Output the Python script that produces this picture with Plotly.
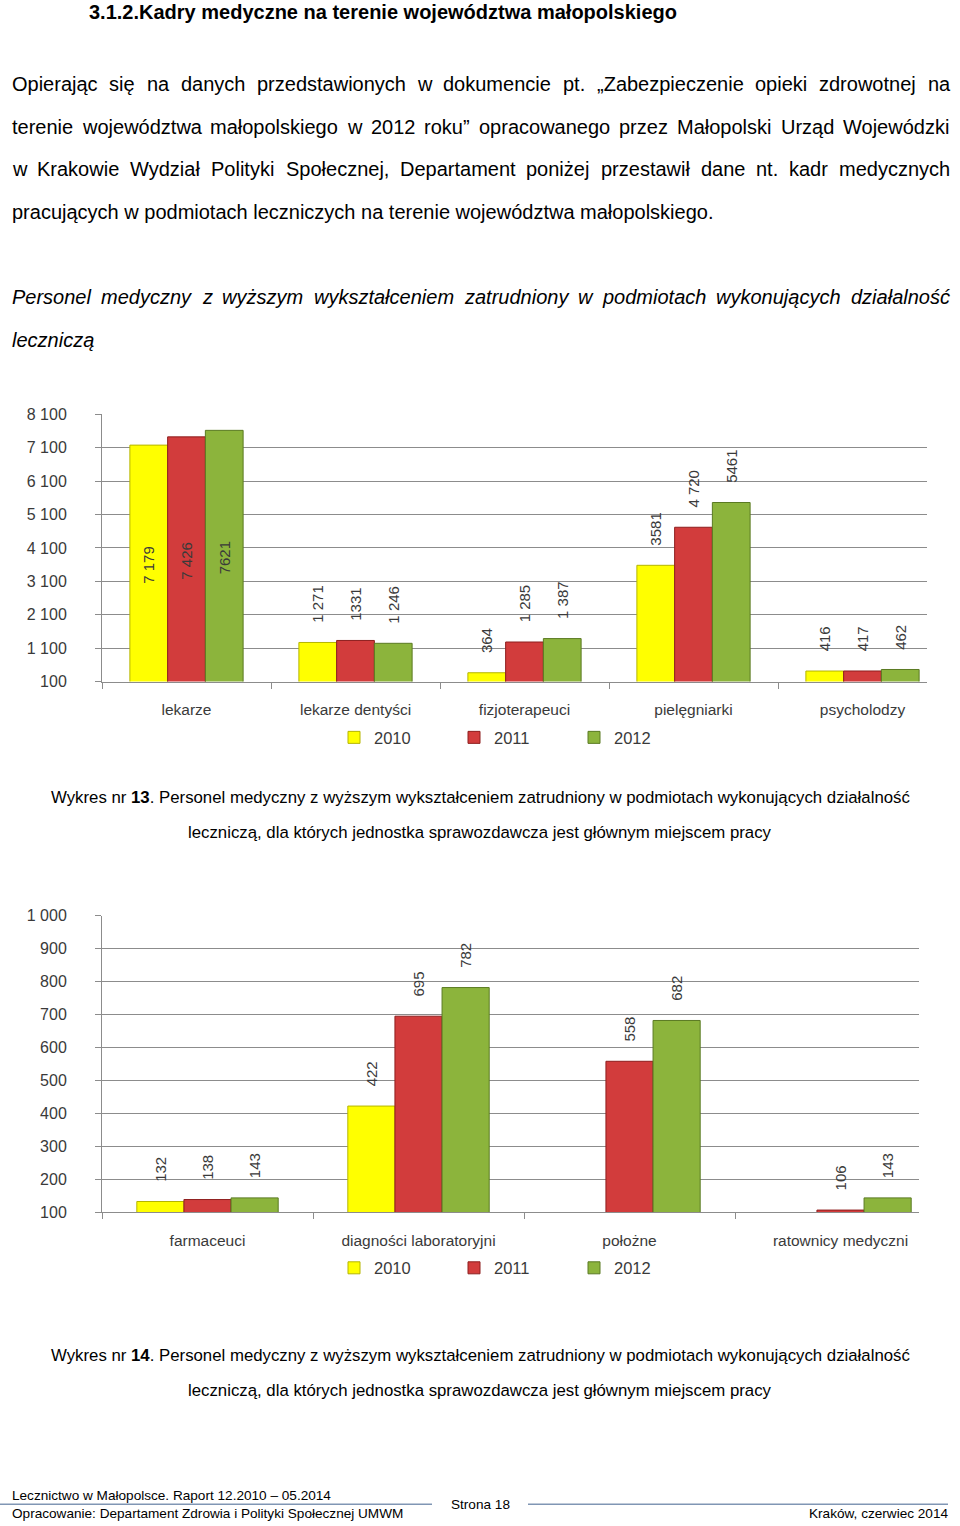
import plotly.graph_objects as go

W, H = 960, 1526

# ---------------- data ----------------
years = ["2010", "2011", "2012"]

cat1 = ["lekarze", "lekarze dentyści", "fizjoterapeuci", "pielęgniarki", "psycholodzy"]
v1_2010 = [7179, 1271, 364, 3581, 416]
v1_2011 = [7426, 1331, 1285, 4720, 417]
v1_2012 = [7621, 1246, 1387, 5461, 462]
t1_2010 = ["7 179", "1 271", "364", "3581", "416"]
t1_2011 = ["7 426", "1331", "1 285", "4 720", "417"]
t1_2012 = ["7621", "1 246", "1 387", "5461", "462"]

cat2 = ["farmaceuci", "diagności laboratoryjni", "położne", "ratownicy medyczni"]
v2_2010 = [132, 422, None, None]
v2_2011 = [138, 695, 558, 106]
v2_2012 = [143, 782, 682, 143]
t2_2010 = ["132", "422", None, None]
t2_2011 = ["138", "695", "558", "106"]
t2_2012 = ["143", "782", "682", "143"]

y1_ticks = [100, 1100, 2100, 3100, 4100, 5100, 6100, 7100, 8100]
y2_ticks = [100, 200, 300, 400, 500, 600, 700, 800, 900, 1000]

# ---------------- style ----------------
FONT = "Liberation Sans, Arial, sans-serif"
fills = ["#FFFF00", "#D23C3C", "#8CB43C"]
edges = ["#B5B500", "#8E1E1E", "#5A7A22"]
GRID = "#8C8C8C"
TXT = "#3A3A3A"

# observed capture: picture_y ~= 9 + 0.988 * page_y  -> invert for layout
Y_OFF, Y_SCALE = 9.0, 0.988


def px(x):
    return x / W


def py(y):
    yp = (y - Y_OFF) / Y_SCALE
    return 1 - yp / H


fig = go.Figure()

NB = "\u00a0"


def add_series(cats, vals, texts, i, xa, ya, leg, inside_thr):
    pos = []
    lab = []
    for v, t in zip(vals, texts):
        if v is None:
            pos.append("none")
            lab.append(None)
        elif inside_thr is not None and v > inside_thr:
            pos.append("inside")
            lab.append(t)
        else:
            pos.append("outside")
            lab.append(NB * 4 + t)
    fig.add_trace(go.Bar(
        x=cats, y=vals, name=years[i], text=lab, textposition=pos,
        textangle=-90, insidetextanchor="middle", constraintext="none",
        cliponaxis=False,
        textfont=dict(family=FONT, size=15, color=TXT),
        marker=dict(color=fills[i], line=dict(color=edges[i], width=1)),
        xaxis=xa, yaxis=ya, legend=leg, hoverinfo="x+y",
    ))


for i, (v, t) in enumerate(zip([v1_2010, v1_2011, v1_2012], [t1_2010, t1_2011, t1_2012])):
    add_series(cat1, v, t, i, "x", "y", "legend", 6000)
for i, (v, t) in enumerate(zip([v2_2010, v2_2011, v2_2012], [t2_2010, t2_2011, t2_2012])):
    add_series(cat2, v, t, i, "x2", "y2", "legend2", None)

axis_common = dict(
    showline=True, linecolor=GRID, linewidth=1, ticks="outside", ticklen=6,
    tickcolor=GRID,
)

xfont = dict(family=FONT, size=15.5, color=TXT)
yfont = dict(family=FONT, size=16, color=TXT)
lfont = dict(family=FONT, size=16.5, color=TXT)

fig.update_layout(
    width=W, height=H, margin=dict(l=0, r=0, t=0, b=0),
    paper_bgcolor="white", plot_bgcolor="white",
    separators=", ",
    barmode="group", bargap=0.33, bargroupgap=0,
    font=dict(family=FONT, color=TXT),
    xaxis=dict(domain=[px(102), px(927)], anchor="y", type="category",
               categoryorder="array", categoryarray=cat1,
               range=[-0.5, -0.5 + (927 - 102) / 169.0], tickson="boundaries",
               ticklabelstandoff=14, showgrid=False, tickfont=xfont, **axis_common),
    yaxis=dict(domain=[py(682), py(415)], anchor="x", range=[100, 8100],
               tickvals=y1_ticks, tickformat=",d", showgrid=True, gridcolor=GRID,
               gridwidth=1, zeroline=False, ticklabelstandoff=25, tickfont=yfont,
               **axis_common),
    xaxis2=dict(domain=[px(102), px(919)], anchor="y2", type="category",
                categoryorder="array", categoryarray=cat2,
                range=[-0.5, -0.5 + (919 - 102) / 211.0], tickson="boundaries",
                ticklabelstandoff=14, showgrid=False, tickfont=xfont, **axis_common),
    yaxis2=dict(domain=[py(1212), py(916)], anchor="x2", range=[100, 1000],
                tickvals=y2_ticks, tickformat=",d", showgrid=True, gridcolor=GRID,
                gridwidth=1, zeroline=False, ticklabelstandoff=25, tickfont=yfont,
                **axis_common),
    legend=dict(orientation="h", x=px(334), xanchor="left", y=py(738), yanchor="middle",
                font=lfont, entrywidth=75, itemwidth=30,
                bgcolor="rgba(0,0,0,0)", itemclick=False),
    legend2=dict(orientation="h", x=px(334), xanchor="left", y=py(1268), yanchor="middle",
                 font=lfont, entrywidth=75, itemwidth=30,
                 bgcolor="rgba(0,0,0,0)", itemclick=False),
    showlegend=True,
)

# Arial / Liberation Sans advance widths (1/1000 em) for justification
CW = {}
for chars, w in [
    ("ijlł", 222), ("ftI.,:;!", 278), ("r„”\"", 333), ("J", 500),
    ("cksvxyzśćżź", 500), ("abdeghnopqu0123456789ąęóń–", 556),
    ("LŁ", 556), ("FTZŻ", 611), ("ABEKPSVXYŚ", 667), ("CDHNRUw", 722),
    ("GOQ", 778), ("mM", 833), ("W", 944),
]:
    for ch in chars:
        CW[ch] = w
CW[" "] = 278


def text_width(s, size):
    return sum(CW.get(ch, 556) for ch in s) * size / 1000.0


ann = []


def text(x, y, s, size, anchor="left", bold=False, italic=False, color="#000000"):
    if bold:
        s = "<b>" + s + "</b>"
    if italic:
        s = "<i>" + s + "</i>"
    ann.append(dict(x=px(x), y=py(y), xref="paper", yref="paper", text=s,
                    showarrow=False, xanchor=anchor, yanchor="middle",
                    font=dict(family=FONT, size=size, color=color)))


def justified(x0, x1, y, line, size, italic=False):
    words = line.split(" ")
    widths = [text_width(w, size) for w in words]
    gap = (x1 - x0 - sum(widths)) / (len(words) - 1)
    x = x0
    for w, wd in zip(words, widths):
        text(x, y, w, size, italic=italic)
        x += wd + gap


text(87, 13, "3.1.2.Kadry medyczne na terenie województwa małopolskiego", 20, bold=True)

PS = 20
justified(10, 948, 85, "Opierając się na danych przedstawionych w dokumencie pt. „Zabezpieczenie opieki zdrowotnej na", PS)
justified(10, 948, 128, "terenie województwa małopolskiego w 2012 roku” opracowanego przez Małopolski Urząd Wojewódzki", PS)
justified(10, 948, 170, "w Krakowie Wydział Polityki Społecznej, Departament poniżej przestawił dane nt. kadr medycznych", PS)
text(10, 213, "pracujących w podmiotach leczniczych na terenie województwa małopolskiego.", PS)

justified(10, 948, 298, "Personel medyczny z wyższym wykształceniem zatrudniony w podmiotach wykonujących działalność", PS, italic=True)
text(10, 341, "leczniczą", PS, italic=True)

CS = 16.8
for num, y in [("13", 798), ("14", 1355)]:
    text(480, y, "Wykres nr <b>" + num + "</b>. Personel medyczny z wyższym wykształceniem zatrudniony w podmiotach wykonujących działalność", CS, anchor="center")
    text(480, y + 35, "leczniczą, dla których jednostka sprawozdawcza jest głównym miejscem pracy", CS, anchor="center")

FS = 13.6
text(10, 1495, "Lecznictwo w Małopolsce. Raport 12.2010 – 05.2014", FS)
text(10, 1513, "Opracowanie: Departament Zdrowia i Polityki Społecznej UMWM", FS)
text(480, 1504, "Strona 18", FS, anchor="center")
text(950, 1513, "Kraków, czerwiec 2014", FS, anchor="right")

fig.update_layout(annotations=ann)

fig.add_shape(type="line", xref="paper", yref="paper", x0=0, x1=px(432), y0=py(1504), y1=py(1504),
              line=dict(color="#8096B4", width=1.5))
fig.add_shape(type="line", xref="paper", yref="paper", x0=px(528), x1=px(948), y0=py(1504), y1=py(1504),
              line=dict(color="#8096B4", width=1.5))

# pin the figure to the top-left corner of a page exactly the window's size
reset_page = (
    "var gd=document.getElementById('{plot_id}');"
    "document.documentElement.style.cssText='margin:0;padding:0;overflow:hidden;height:1526px;';"
    "document.body.style.cssText='margin:0;padding:0;overflow:hidden;height:1526px;position:relative;';"
    "gd.parentElement.style.cssText='margin:0;padding:0;font-size:0;line-height:0;';"
    "gd.style.position='absolute';gd.style.top='0px';gd.style.left='0px';"
)

fig.write_html("out.html", post_script=reset_page, config={"displayModeBar": False})
